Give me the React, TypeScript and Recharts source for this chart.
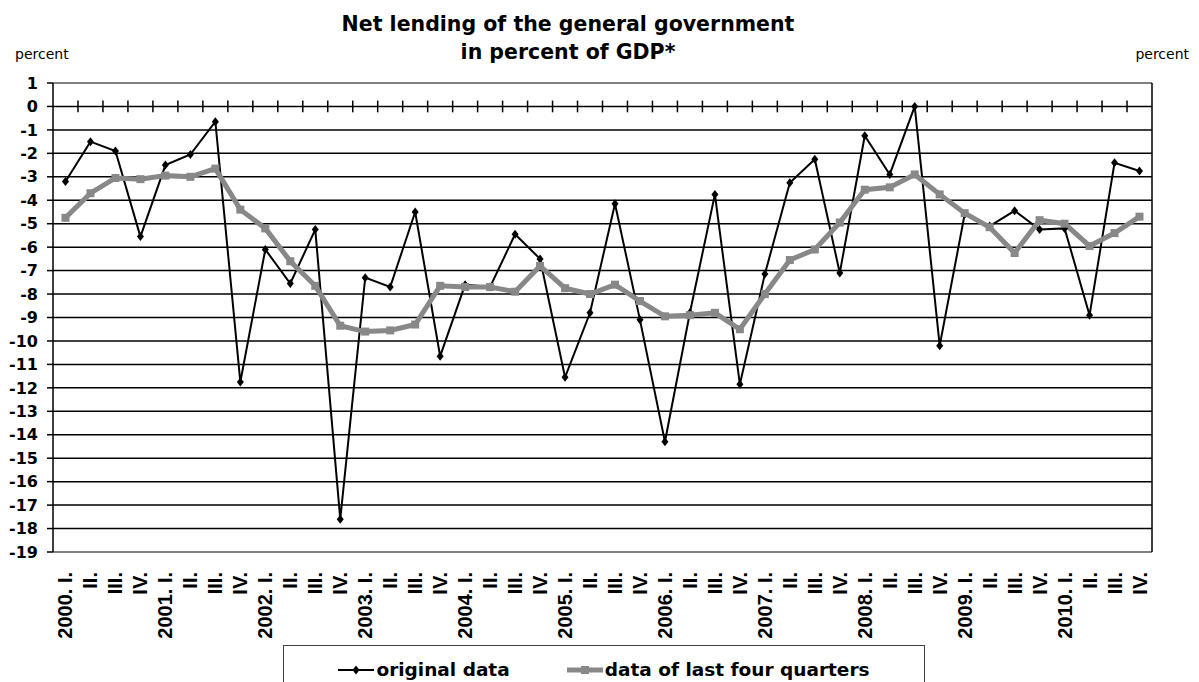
import React from 'react';
import { LineChart, Line, XAxis, YAxis, CartesianGrid, ReferenceLine, Legend } from 'recharts';

// Quarterly net lending of the general government, percent of GDP
const years = ['2000', '2001', '2002', '2003', '2004', '2005', '2006', '2007', '2008', '2009', '2010'];
const quarters = ['I.', 'II.', 'III.', 'IV.'];

const originalData = [
  -3.2, -1.5, -1.9, -5.55,
  -2.5, -2.05, -0.65, -11.75,
  -6.1, -7.55, -5.25, -17.6,
  -7.3, -7.7, -4.5, -10.65,
  -7.6, -7.7, -5.45, -6.5,
  -11.55, -8.8, -4.15, -9.1,
  -14.3, -8.8, -3.75, -11.85,
  -7.15, -3.25, -2.25, -7.1,
  -1.25, -2.9, 0.0, -10.2,
  -4.6, -5.1, -4.45, -5.25,
  -5.2, -8.9, -2.4, -2.75,
];

const lastFourQuarters = [
  -4.75, -3.7, -3.05, -3.1,
  -2.95, -3.0, -2.65, -4.4,
  -5.2, -6.6, -7.65, -9.35,
  -9.6, -9.55, -9.3, -7.65,
  -7.7, -7.7, -7.9, -6.8,
  -7.75, -8.0, -7.6, -8.3,
  -8.95, -8.9, -8.8, -9.5,
  -8.0, -6.55, -6.1, -4.95,
  -3.55, -3.45, -2.9, -3.75,
  -4.55, -5.15, -6.25, -4.85,
  -5.0, -5.95, -5.4, -4.7,
];

const yTicks = [1, 0, -1, -2, -3, -4, -5, -6, -7, -8, -9, -10, -11, -12, -13, -14, -15, -16, -17, -18, -19];

const seriesOrder = ['original', 'lastFour'];

const quarterLabels = years.flatMap((y) => quarters.map((q, i) => (i === 0 ? `${y}. ${q}` : q)));

// Each quarter sits in the middle of its unit slot on a numeric x scale
const rows = quarterLabels.map((label, i) => ({
  pos: i + 0.5,
  label,
  original: originalData[i],
  lastFour: lastFourQuarters[i],
}));
const xTicks = rows.map((r) => r.pos);
const quarterBoundaries = quarterLabels.slice(1).map((_, i) => i + 1);

const GRAY = '#888888';
const AXIS_FONT = { fontFamily: 'DejaVu Sans', fontWeight: 'bold', fontSize: 16, fill: '#000' } as const;

const renderDiamond = (p: any) => {
  const { cx, cy, index } = p;
  if (cx == null || cy == null) return <g key={`d-${index}`} />;
  return (
    <path
      key={`d-${index}`}
      d={`M${cx},${cy - 4.5}L${cx + 3.5},${cy}L${cx},${cy + 4.5}L${cx - 3.5},${cy}Z`}
      fill="#000"
    />
  );
};

const renderSquare = (p: any) => {
  const { cx, cy, index } = p;
  if (cx == null || cy == null) return <g key={`s-${index}`} />;
  return <rect key={`s-${index}`} x={cx - 4} y={cy - 4} width={8} height={8} fill={GRAY} />;
};

const renderQuarterTick = (props: any) => {
  const { x, y, payload, index } = props;
  const label = quarterLabels[Math.floor(payload.value)];
  const ty = y + 20;
  return (
    <text
      key={`q-${index}`}
      x={x}
      y={ty}
      transform={`rotate(-90, ${x}, ${ty})`}
      textAnchor="end"
      dy="0.35em"
      fontFamily="Liberation Sans"
      fontWeight="bold"
      fontSize={20}
      fill="#000"
    >
      {label}
    </text>
  );
};

const LegendIcon = ({ dataKey }: { dataKey: string }) =>
  dataKey === 'original' ? (
    <svg width={36} height={12} style={{ display: 'block' }}>
      <line x1={0} y1={6} x2={36} y2={6} stroke="#000" strokeWidth={2} />
      <path d="M18,1.5L21.5,6L18,10.5L14.5,6Z" fill="#000" />
    </svg>
  ) : (
    <svg width={36} height={12} style={{ display: 'block' }}>
      <line x1={0} y1={6} x2={36} y2={6} stroke={GRAY} strokeWidth={5} />
      <rect x={14} y={2} width={8} height={8} fill={GRAY} />
    </svg>
  );

const LegendBox = (props: any) => {
  const payload = [...(props.payload || [])].sort(
    (a: any, b: any) => seriesOrder.indexOf(a.dataKey) - seriesOrder.indexOf(b.dataKey)
  );
  return (
    <div
      style={{
        boxSizing: 'border-box',
        width: 642,
        height: 37,
        border: '1px solid #404040',
        borderBottom: 'none',
        background: '#fff',
        display: 'flex',
        justifyContent: 'center',
        alignItems: 'flex-start',
        paddingTop: 13,
        gap: 57,
        fontFamily: 'DejaVu Sans',
        fontWeight: 'bold',
        fontSize: 18.5,
        lineHeight: '21px',
        color: '#000',
      }}
    >
      {payload.map((entry: any) => (
        <div key={entry.dataKey} style={{ display: 'flex', alignItems: 'center', whiteSpace: 'nowrap' }}>
          <LegendIcon dataKey={entry.dataKey} />
          <span style={{ marginLeft: 2 }}>{entry.value}</span>
        </div>
      ))}
    </div>
  );
};

export default function App() {
  return (
    <div style={{ position: 'absolute', left: 0, top: 0, width: 1199, height: 682, background: '#fff' }}>
      <LineChart
        width={1199}
        height={682}
        data={rows}
        margin={{ top: 83, right: 0, bottom: 0, left: 0 }}
      >
        <CartesianGrid vertical={false} stroke="#000" strokeWidth={1.5} />
        <XAxis
          type="number"
          dataKey="pos"
          domain={[0, 44]}
          ticks={xTicks}
          interval={0}
          axisLine={false}
          tickLine={false}
          tickSize={0}
          tickMargin={0}
          height={130}
          tick={renderQuarterTick}
        />
        <YAxis
          type="number"
          domain={[-19, 1]}
          ticks={yTicks}
          interval={0}
          width={53}
          axisLine={{ stroke: '#000', strokeWidth: 1.5 }}
          tickLine={{ stroke: '#000', strokeWidth: 1.5 }}
          tickSize={6}
          tickMargin={9}
          tick={AXIS_FONT}
        />
        <YAxis
          yAxisId="right"
          orientation="right"
          type="number"
          domain={[-19, 1]}
          ticks={yTicks}
          interval={0}
          width={47}
          axisLine={{ stroke: '#000', strokeWidth: 1.5 }}
          tickLine={{ stroke: '#000', strokeWidth: 1.5 }}
          tickSize={6}
          tickMargin={9}
          tick={AXIS_FONT}
        />
        <ReferenceLine y={1} stroke="#808080" strokeWidth={2} />
        <ReferenceLine y={-19} stroke="#808080" strokeWidth={2} />
        {quarterBoundaries.map((b) => (
          <ReferenceLine
            key={`b-${b}`}
            segment={[
              { x: b, y: 0.25 },
              { x: b, y: -0.25 },
            ]}
            stroke="#000"
            strokeWidth={1.5}
          />
        ))}
        <Legend
          layout="horizontal"
          verticalAlign="middle"
          align="center"
          itemSorter={null as any}
          wrapperStyle={{ left: 283, top: 645, width: 642, height: 37 }}
          content={<LegendBox />}
        />
        <Line
          type="linear"
          dataKey="original"
          name="original data"
          stroke="#000"
          strokeWidth={2}
          dot={renderDiamond}
          activeDot={false}
          isAnimationActive={false}
        />
        <Line
          type="linear"
          dataKey="lastFour"
          name="data of last four quarters"
          stroke={GRAY}
          strokeWidth={5}
          dot={renderSquare}
          activeDot={false}
          isAnimationActive={false}
        />
      </LineChart>
      <svg
        width={1199}
        height={70}
        style={{ position: 'absolute', left: 0, top: 0, pointerEvents: 'none' }}
      >
        <text x={568} y={31} textAnchor="middle" fontFamily="DejaVu Sans" fontWeight="bold" fontSize={20.5} fill="#000">
          Net lending of the general government
        </text>
        <text x={568} y={59} textAnchor="middle" fontFamily="DejaVu Sans" fontWeight="bold" fontSize={20.5} fill="#000">
          in percent of GDP*
        </text>
        <text x={15} y={59} fontFamily="DejaVu Sans" fontSize={14} fill="#000">
          percent
        </text>
        <text x={1189} y={59} textAnchor="end" fontFamily="DejaVu Sans" fontSize={14} fill="#000">
          percent
        </text>
      </svg>
    </div>
  );
}
